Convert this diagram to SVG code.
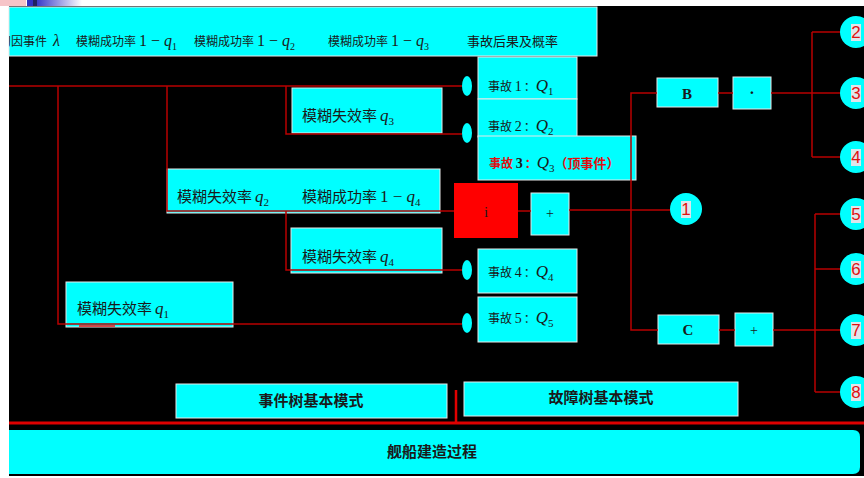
<svg xmlns="http://www.w3.org/2000/svg" width="864" height="478" viewBox="0 0 864 478">
<defs>
<linearGradient id="fade" x1="0" y1="0" x2="1" y2="0">
<stop offset="0" stop-color="#3a3ac8"/><stop offset="1" stop-color="#ffffff"/>
</linearGradient>
<clipPath id="hclip"><rect x="9" y="7" width="588" height="49"/></clipPath>
<style>
.bx{fill:#00ffff;stroke:#e8e8e8;stroke-width:1}
.cj{font-family:"Noto Sans CJK SC","Liberation Sans",sans-serif;fill:#1a1a1a}
.m{font-family:"Liberation Serif",serif;fill:#1a1a1a}
.q{font-style:italic}
.ln{fill:none;stroke:#b80000;stroke-width:1.5}
.ov{fill:#00ffff}
.cc{fill:#00ffff}
.dg{font-family:"Liberation Sans",sans-serif;font-size:17px;fill:#e01010;text-anchor:middle}
.db{fill:#dde6ec}
.bd{font-family:"Noto Sans CJK SC",sans-serif;font-weight:bold;fill:#1a1a1a;text-anchor:middle}
</style>
</defs>
<rect x="0" y="0" width="864" height="478" fill="#ffffff"/>
<rect x="0" y="0" width="26" height="6" fill="#f6c4c8"/>
<rect x="27" y="0" width="7" height="6" fill="#3030c0"/>
<rect x="33" y="0" width="4" height="6" fill="#202060"/>
<rect x="37" y="0" width="45" height="6" fill="url(#fade)"/>
<rect x="9" y="6" width="855" height="470" fill="#000000"/>

<g id="header">
<rect class="bx" x="9" y="7" width="588" height="49"/>
<g clip-path="url(#hclip)">
<text x="-1" y="46" class="cj" font-size="12">初因事件<tspan class="m q" font-size="16" dx="6">λ</tspan></text>
</g>
<text x="76" y="46" class="cj" font-size="12">模糊成功率<tspan class="m" font-size="16" dx="3">1 − </tspan><tspan class="m q" font-size="16">q</tspan><tspan class="m" font-size="10" dy="4">1</tspan></text>
<text x="194" y="46" class="cj" font-size="12">模糊成功率<tspan class="m" font-size="16" dx="3">1 − </tspan><tspan class="m q" font-size="16">q</tspan><tspan class="m" font-size="10" dy="4">2</tspan></text>
<text x="328" y="46" class="cj" font-size="12">模糊成功率<tspan class="m" font-size="16" dx="3">1 − </tspan><tspan class="m q" font-size="16">q</tspan><tspan class="m" font-size="10" dy="4">3</tspan></text>
<text x="467" y="46" class="cj" font-size="13">事故后果及概率</text>
</g>

<g id="e1"><rect class="bx" x="478" y="57" width="99" height="42"/>
<text x="488" y="91" class="cj" font-size="12">事故 <tspan class="m" font-size="14">1</tspan><tspan dx="2">：</tspan><tspan class="m q" font-size="17">Q</tspan><tspan class="m" font-size="11" dy="4">1</tspan></text></g>
<g id="e2"><rect class="bx" x="478" y="99" width="99" height="38"/>
<text x="488" y="131" class="cj" font-size="12">事故 <tspan class="m" font-size="14">2</tspan><tspan dx="2">：</tspan><tspan class="m q" font-size="17">Q</tspan><tspan class="m" font-size="11" dy="4">2</tspan></text></g>
<g id="e3"><rect class="bx" x="478" y="136" width="158" height="44"/>
<text x="489" y="168" class="cj" font-size="12" font-weight="bold" style="fill:#e01010">事故 <tspan class="m" font-size="14">3</tspan><tspan dx="2">：</tspan><tspan class="m q" font-size="17" font-weight="normal" style="fill:#1a1a1a">Q</tspan><tspan class="m" font-size="11" dy="4" font-weight="normal" style="fill:#1a1a1a">3</tspan><tspan dy="-4" font-size="13">（顶事件）</tspan></text></g>
<g id="e4"><rect class="bx" x="478" y="249" width="99" height="44"/>
<text x="488" y="277" class="cj" font-size="12">事故 <tspan class="m" font-size="14">4</tspan><tspan dx="2">：</tspan><tspan class="m q" font-size="17">Q</tspan><tspan class="m" font-size="11" dy="4">4</tspan></text></g>
<g id="e5"><rect class="bx" x="478" y="297" width="99" height="45"/>
<text x="488" y="323" class="cj" font-size="12">事故 <tspan class="m" font-size="14">5</tspan><tspan dx="2">：</tspan><tspan class="m q" font-size="17">Q</tspan><tspan class="m" font-size="11" dy="4">5</tspan></text></g>

<g id="q3"><rect class="bx" x="292" y="88" width="150" height="45"/>
<text x="302" y="121" class="cj" font-size="15">模糊失效率<tspan class="m q" font-size="17" dx="3">q</tspan><tspan class="m" font-size="11" dy="4">3</tspan></text></g>
<g id="q2"><rect class="bx" x="167" y="169" width="273" height="44"/>
<text x="177" y="202" class="cj" font-size="15">模糊失效率<tspan class="m q" font-size="17" dx="3">q</tspan><tspan class="m" font-size="11" dy="4">2</tspan></text>
<text x="302" y="202" class="cj" font-size="15">模糊成功率<tspan class="m" font-size="17" dx="3">1 − </tspan><tspan class="m q" font-size="17">q</tspan><tspan class="m" font-size="11" dy="4">4</tspan></text></g>
<g id="q4"><rect class="bx" x="291" y="228" width="151" height="45"/>
<text x="302" y="262" class="cj" font-size="15">模糊失效率<tspan class="m q" font-size="17" dx="3">q</tspan><tspan class="m" font-size="11" dy="4">4</tspan></text></g>
<g id="q1"><rect class="bx" x="66" y="282" width="167" height="45"/>
<text x="77" y="314" class="cj" font-size="15">模糊失效率<tspan class="m q" font-size="17" dx="3">q</tspan><tspan class="m" font-size="11" dy="4">1</tspan></text></g>

<g id="i"><rect x="454" y="183" width="64" height="55" fill="#ff0000"/>
<text x="486" y="217" class="m" font-size="15" text-anchor="middle">i</text></g>
<g id="plus1"><rect class="bx" x="531" y="193" width="38" height="42"/>
<text x="550" y="218" class="m" font-size="14" text-anchor="middle">+</text></g>
<g id="B"><rect class="bx" x="657" y="78" width="61" height="29"/>
<text x="687" y="99" class="m" font-size="15" font-weight="bold" text-anchor="middle">B</text></g>
<g id="dot"><rect class="bx" x="733" y="77" width="38" height="32"/>
<text x="752" y="98" class="m" font-size="16" font-weight="bold" text-anchor="middle">·</text></g>
<g id="C"><rect class="bx" x="658" y="315" width="61" height="29"/>
<text x="688" y="335" class="m" font-size="15" font-weight="bold" text-anchor="middle">C</text></g>
<g id="plus2"><rect class="bx" x="735" y="313" width="38" height="33"/>
<text x="754" y="335" class="m" font-size="14" text-anchor="middle">+</text></g>

<g id="etree"><rect class="bx" x="176" y="384" width="271" height="34"/>
<text x="311" y="406" class="bd" font-size="15">事件树基本模式</text></g>
<g id="ftree"><rect class="bx" x="464" y="382" width="274" height="34"/>
<text x="601" y="403" class="bd" font-size="15">故障树基本模式</text></g>
<g id="ship"><path d="M9,430 H853 Q860,430 860,437 V467 Q860,474 853,474 H9 Z" fill="#00ffff"/>
<text x="432" y="457" class="bd" font-size="15">舰船建造过程</text></g>

<g id="connectors">
<path class="ln" d="M9,86 H462"/>
<path class="ln" d="M58,86 V324 H462"/>
<path class="ln" d="M167,86 V211 H454"/>
<path class="ln" d="M286,86 V134 H462"/>
<path class="ln" d="M286,211 V270 H462"/>
<path class="ln" d="M518,211 H531"/>
<path class="ln" d="M569,210 H670"/>
<path class="ln" d="M657,93 H631 V330 H658"/>
<path class="ln" d="M718,93 H733"/>
<path class="ln" d="M771,93 H840 M812,32 V157 M812,32 H840 M812,157 H840"/>
<path class="ln" d="M719,330 H735 M773,330 H840 M815,214 V392 M815,214 H840 M815,269 H840 M815,392 H840"/>
<path d="M79,326 H115" stroke="#ff1010" stroke-width="1.5"/>
<path d="M456,390 V423" stroke="#e00000" stroke-width="2.5"/>
<path d="M9,423 H864" stroke="#e00000" stroke-width="3"/>
</g>

<g id="ovals">
<ellipse class="ov" cx="467" cy="86" rx="5" ry="10"/>
<ellipse class="ov" cx="467" cy="133" rx="5" ry="10"/>
<ellipse class="ov" cx="467" cy="270" rx="5" ry="10"/>
<ellipse class="ov" cx="467" cy="323" rx="5" ry="10"/>
</g>

<g id="c1"><circle class="cc" cx="686" cy="209" r="16"/><rect class="db" x="681" y="201" width="10" height="17"/><text x="686" y="215" class="dg">1</text></g>
<g id="c2"><circle class="cc" cx="856" cy="32" r="16"/><rect class="db" x="851" y="24" width="10" height="17"/><text x="856" y="38" class="dg">2</text></g>
<g id="c3"><circle class="cc" cx="856" cy="93" r="16"/><rect class="db" x="851" y="85" width="10" height="17"/><text x="856" y="99" class="dg">3</text></g>
<g id="c4"><circle class="cc" cx="856" cy="157" r="16"/><rect class="db" x="851" y="149" width="10" height="17"/><text x="856" y="163" class="dg">4</text></g>
<g id="c5"><circle class="cc" cx="856" cy="214" r="16"/><rect class="db" x="851" y="206" width="10" height="17"/><text x="856" y="220" class="dg">5</text></g>
<g id="c6"><circle class="cc" cx="856" cy="269" r="16"/><rect class="db" x="851" y="261" width="10" height="17"/><text x="856" y="275" class="dg">6</text></g>
<g id="c7"><circle class="cc" cx="856" cy="330" r="16"/><rect class="db" x="851" y="322" width="10" height="17"/><text x="856" y="336" class="dg">7</text></g>
<g id="c8"><circle class="cc" cx="856" cy="392" r="16"/><rect class="db" x="851" y="384" width="10" height="17"/><text x="856" y="398" class="dg">8</text></g>
</svg>
